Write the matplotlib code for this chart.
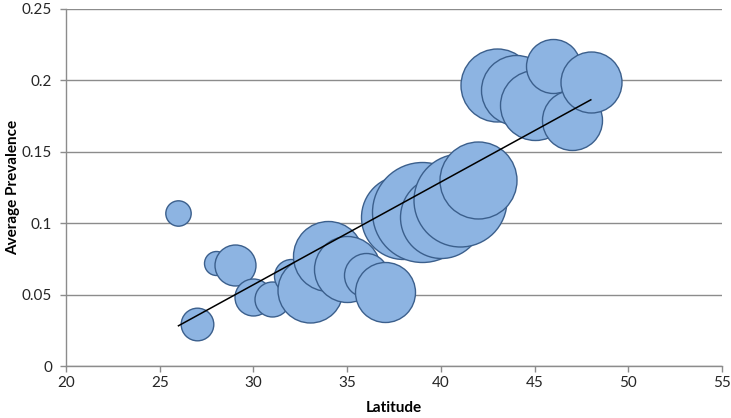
import matplotlib.pyplot as plt
import numpy as np

# --- Data ---
latitude = [26, 27, 28, 29, 30, 31, 32, 33, 34, 35, 36, 37,
            38, 39, 40, 41, 42, 43, 44, 45, 46, 47, 48]
prevalence = [0.107, 0.0295, 0.072, 0.071, 0.048, 0.047, 0.063, 0.053,
              0.077, 0.068, 0.064, 0.052, 0.104, 0.108, 0.104, 0.116,
              0.130, 0.197, 0.193, 0.183, 0.210, 0.172, 0.199]
# relative bubble size (area)
bubble_size = [161, 266, 144, 420, 342, 306, 289, 1056, 1225, 1089, 484, 900,
               1764, 2500, 1681, 2162, 1482, 1332, 1225, 1225, 729, 900, 930]

x_ticks = [20, 25, 30, 35, 40, 45, 50, 55]
y_ticks = [0, 0.05, 0.1, 0.15, 0.2, 0.25]
y_tick_labels = ["0", "0.05", "0.1", "0.15", "0.2", "0.25"]

plt.rcParams['font.family'] = ['Lato', 'DejaVu Sans']

fig = plt.figure(figsize=(7.31, 4.18), dpi=100)
ax = fig.add_axes([0.0903, 0.1244, 0.8974, 0.8541])

# bubbles: size value is area in px^2 -> points^2
s = np.array(bubble_size) * (2 * 0.72) ** 2
for i in range(len(latitude)):
    ax.scatter(latitude[i], prevalence[i], s=s[i], color='#8DB4E2',
               edgecolors='#3B5F8C', linewidths=1.0, zorder=3 + i * 0.01)

# linear trendline
coef = np.polyfit(latitude, prevalence, 1)
xs = np.array([min(latitude), max(latitude)])
ax.plot(xs, np.polyval(coef, xs), color='black', lw=1.1, zorder=10)

ax.set_xlim(20, 55)
ax.set_ylim(0, 0.25)
ax.set_xticks(x_ticks)
ax.set_yticks(y_ticks)
ax.set_yticklabels(y_tick_labels)
ax.grid(axis='y', color='#8C8C8C', lw=1.0, zorder=0)
ax.set_axisbelow(True)

for side in ['top', 'right']:
    ax.spines[side].set_visible(False)
for side in ['left', 'bottom']:
    ax.spines[side].set_color('#8C8C8C')
    ax.spines[side].set_linewidth(1.0)
ax.tick_params(axis='both', colors='#8C8C8C', labelcolor='#262626',
               labelsize=11, length=4, width=1.0, direction='out')
ax.tick_params(axis='y', pad=6)

ax.set_xlabel("Latitude", fontsize=11, fontweight='bold')
ax.set_ylabel("Average Prevalence", fontsize=11, fontweight='bold')
ax.xaxis.set_label_coords(0.5, -0.118)
ax.yaxis.set_label_coords(-0.081, 0.5)
ax.xaxis.label.set_va('center')
ax.yaxis.label.set_va('center')

fig.savefig("out.png", dpi=100)
